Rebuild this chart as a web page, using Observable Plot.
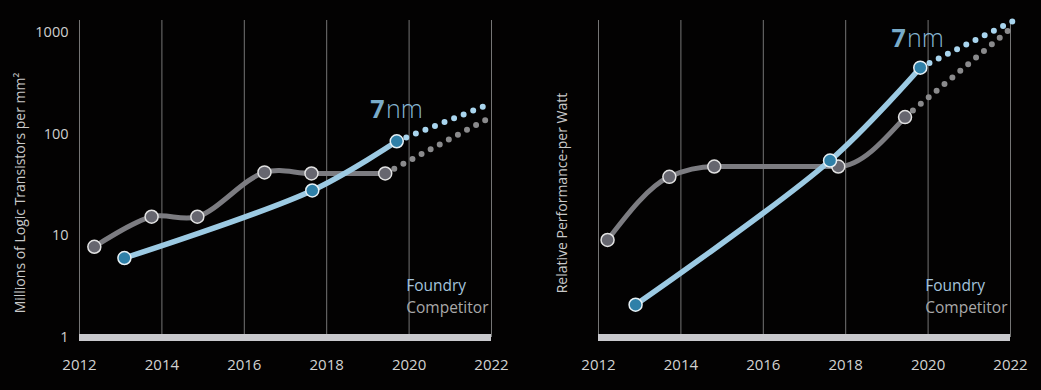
<!DOCTYPE html>
<html><head><meta charset="utf-8">
<script src="https://cdn.jsdelivr.net/npm/d3@7"></script>
<script src="https://cdn.jsdelivr.net/npm/@observablehq/plot@0.6"></script>
<style>
html,body{margin:0;padding:0;background:#030202;}
#wrap{display:flex;width:1041px;height:390px;overflow:hidden;background:#030202;}
svg text{font-family:"Open Sans",sans-serif;}
</style></head><body><div id="wrap"></div>
<script>
// ---- shared ----
const yearTicks = [2012, 2014, 2016, 2018, 2020, 2022];
const densityTicks = [1, 10, 100, 1000];

// ---- left chart: logic transistor density ----
const densityCompetitorYear  = [2012.36, 2013.75, 2014.86, 2016.49, 2017.63, 2019.42];
const densityCompetitorValue = [7.8, 15.4, 15.4, 42, 41, 41];
const densityAmdYear  = [2013.09, 2017.65, 2019.7];
const densityAmdValue = [6.05, 27.9, 85];
const densityCompetitorProjYear  = [2019.42, 2022.04];
const densityCompetitorProjValue = [41, 151];
const densityAmdProjYear  = [2019.7, 2021.9];
const densityAmdProjValue = [85, 194];

// ---- right chart: relative performance-per-watt ----
const perfCompetitorYear  = [2012.22, 2013.72, 2014.81, 2017.82, 2019.44];
const perfCompetitorValue = [9.1, 38, 48, 48, 147];
const perfAmdYear  = [2012.9, 2017.62, 2019.81];
const perfAmdValue = [2.1, 55, 450];
const perfCompetitorProjYear  = [2019.44, 2022.07];
const perfCompetitorProjValue = [147, 1150];
const perfAmdProjYear  = [2019.81, 2022.07];
const perfAmdProjValue = [450, 1300];

// ---- annotations (data units) ----
const densityNodeLabel = {year7: 2019.06, yearNm: 2019.44, value: 143};
const perfNodeLabel    = {year7: 2019.11, yearNm: 2019.49, value: 712};
const legendLabel = {year: 2019.93, foundryValue: 2.85, competitorValue: 1.75};
const densityAxisTitle = "Millions of Logic Transistors per mm²";
const perfAxisTitle = "Relative Performance-per Watt";

const zip = (xs, ys) => xs.map((x, i) => ({x, y: ys[i]}));

const GRAY = "#7c7c81", BLUE = "#9ccae3";

function chart(o) {
  return Plot.plot({
    width: o.width, height: 390,
    marginLeft: o.marginLeft, marginRight: o.marginRight, marginTop: 20, marginBottom: 53,
    style: {background: "transparent", color: "#cfcfcf", fontFamily: "Open Sans, sans-serif"},
    x: {domain: [2012, 2022], axis: null},
    y: {type: "log", domain: [1, 1310], axis: null},
    marks: [
      Plot.ruleX(yearTicks, {stroke: "#757575", strokeWidth: 1}),
      Plot.ruleY([1], {stroke: "#c9c9cd", strokeWidth: 7}),
      Plot.axisX(yearTicks, {tickSize: 0, tickPadding: 22, tickFormat: d => String(d), color: "#d2d2d2", fontSize: 15}),
      o.showY ? Plot.axisY(densityTicks, {tickSize: 0, tickPadding: 11, tickFormat: d => String(d), color: "#cfcfcf", fontSize: 14.5}) : null,
      Plot.text([o.title], {frameAnchor: "left", textAnchor: "middle", rotate: -90, dx: o.titleDx, dy: 14, fill: "#c9c9c9", fontSize: 14}),
      // projections
      Plot.line(o.compProj, {x: "x", y: "y", stroke: "#8a8a8c", strokeWidth: 6, strokeLinecap: "round", strokeDasharray: "0 10.3"}),
      Plot.line(o.amdProj, {x: "x", y: "y", stroke: "#a9d5ee", strokeWidth: 6, strokeLinecap: "round", strokeDasharray: "0 10.3"}),
      // lines
      Plot.line(o.comp, {x: "x", y: "y", stroke: GRAY, strokeWidth: 5, curve: o.compCurve}),
      Plot.line(o.amd, {x: "x", y: "y", stroke: BLUE, strokeWidth: 5.5, curve: o.amdCurve}),
      // points
      Plot.dot(o.comp, {x: "x", y: "y", r: 6.5, fill: "#66666f", stroke: "#e2e2e2", strokeWidth: 1.5}),
      Plot.dot(o.amd, {x: "x", y: "y", r: 6.5, fill: "#2f80a8", stroke: "#e6f0f5", strokeWidth: 1.5}),
      // 7nm label
      Plot.text([o.node], {x: "year7", y: "value", text: () => "7", textAnchor: "start", lineAnchor: "bottom", fontSize: 25, fontWeight: 700, fill: "#79abc9"}),
      Plot.text([o.node], {x: "yearNm", y: "value", text: () => "nm", textAnchor: "start", lineAnchor: "bottom", fontSize: 25, fontWeight: 300, fill: "#86b6d2"}),
      // legend words
      Plot.text([legendLabel], {x: "year", y: "foundryValue", text: () => "Foundry", textAnchor: "start", lineAnchor: "bottom", fontSize: 15.5, fill: "#a3c3dc"}),
      Plot.text([legendLabel], {x: "year", y: "competitorValue", text: () => "Competitor", textAnchor: "start", lineAnchor: "bottom", fontSize: 15.5, fill: "#a9a9a9"})
    ]
  });
}

const wrap = document.getElementById("wrap");
wrap.appendChild(chart({
  width: 520, marginLeft: 79, marginRight: 29, showY: true,
  title: densityAxisTitle, titleDx: -59,
  comp: zip(densityCompetitorYear, densityCompetitorValue),
  amd: zip(densityAmdYear, densityAmdValue),
  compProj: zip(densityCompetitorProjYear, densityCompetitorProjValue),
  amdProj: zip(densityAmdProjYear, densityAmdProjValue),
  compCurve: "catmull-rom", amdCurve: "catmull-rom",
  node: densityNodeLabel
}));
wrap.appendChild(chart({
  width: 521, marginLeft: 78, marginRight: 31, showY: false,
  title: perfAxisTitle, titleDx: -36,
  comp: zip(perfCompetitorYear, perfCompetitorValue),
  amd: zip(perfAmdYear, perfAmdValue),
  compProj: zip(perfCompetitorProjYear, perfCompetitorProjValue),
  amdProj: zip(perfAmdProjYear, perfAmdProjValue),
  compCurve: "monotone-x", amdCurve: "catmull-rom",
  node: perfNodeLabel
}));
</script></body></html>
